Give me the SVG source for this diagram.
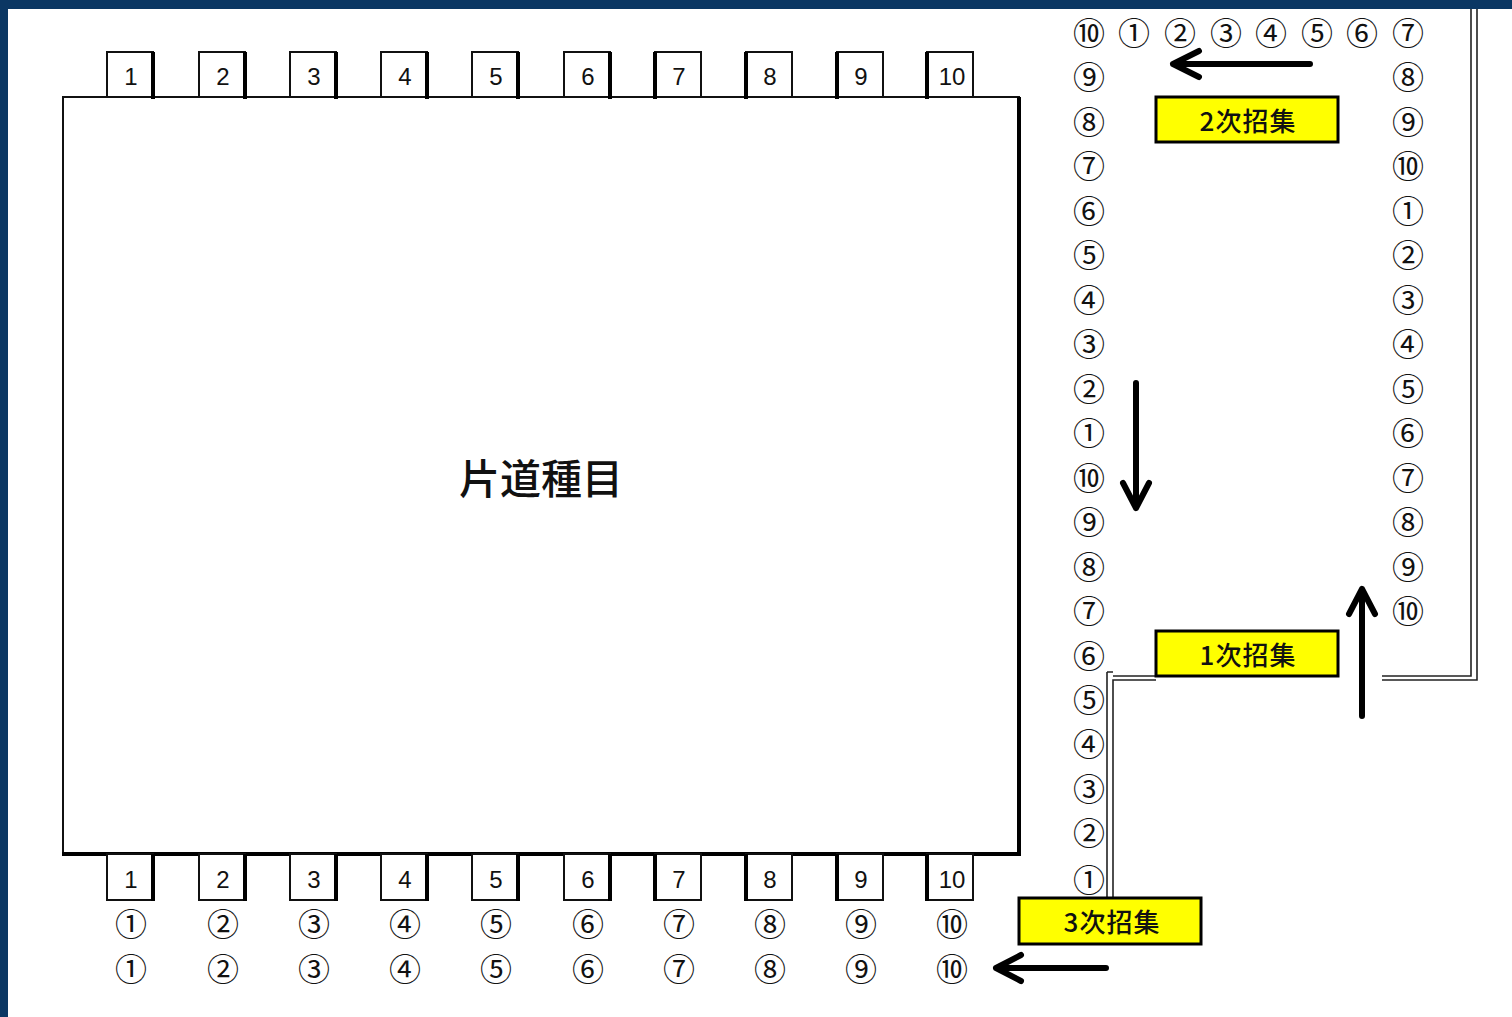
<svg xmlns="http://www.w3.org/2000/svg" width="1512" height="1017" viewBox="0 0 1512 1017">
<defs>
<style>
.ln{font-family:"Liberation Sans","Noto Sans",sans-serif;font-size:24px;fill:#111;text-anchor:middle;dominant-baseline:central}
.cn{font-family:"Noto Sans CJK JP","DejaVu Sans",sans-serif;font-size:32px;fill:#111;text-anchor:middle;dominant-baseline:central}
.box{fill:#fff;stroke:#111;stroke-width:2}
.thk{stroke:#000;stroke-width:4}
.yl{fill:#ffff00;stroke:#000;stroke-width:3}
.yt{font-family:"Noto Sans CJK JP",sans-serif;font-size:26px;font-weight:500;letter-spacing:1px;fill:#111;text-anchor:middle;dominant-baseline:central}
.dbl{fill:none;stroke:#222;stroke-width:1.6}
.arr{fill:none;stroke:#000;stroke-width:6;stroke-linecap:round;stroke-linejoin:round}
</style>
</defs>
<rect x="0" y="0" width="1512" height="1017" fill="#0b3763"/>
<rect x="8" y="9" width="1504" height="1008" fill="#fff"/>

<g id="pool">
<rect x="63" y="97" width="956" height="757" fill="#fff" stroke="#111" stroke-width="2"/>
<line x1="1019" y1="97" x2="1019" y2="855" class="thk"/>
<line x1="62" y1="854" x2="1021" y2="854" class="thk"/>
<text x="541" y="476" font-family="Noto Sans CJK JP,sans-serif" font-size="41" font-weight="500" fill="#111" text-anchor="middle" dominant-baseline="central">片道種目</text>
</g>

<g id="top-lanes">
<g id="tl1"><rect x="107" y="52" width="46" height="45" class="box"/><line x1="153" y1="52" x2="153" y2="99" class="thk"/><text x="131" y="76" class="ln">1</text></g>
<g id="tl2"><rect x="199" y="52" width="46" height="45" class="box"/><line x1="245" y1="52" x2="245" y2="99" class="thk"/><text x="223" y="76" class="ln">2</text></g>
<g id="tl3"><rect x="290" y="52" width="46" height="45" class="box"/><line x1="336" y1="52" x2="336" y2="99" class="thk"/><text x="314" y="76" class="ln">3</text></g>
<g id="tl4"><rect x="381" y="52" width="46" height="45" class="box"/><line x1="427" y1="52" x2="427" y2="99" class="thk"/><text x="405" y="76" class="ln">4</text></g>
<g id="tl5"><rect x="472" y="52" width="46" height="45" class="box"/><line x1="518" y1="52" x2="518" y2="99" class="thk"/><text x="496" y="76" class="ln">5</text></g>
<g id="tl6"><rect x="564" y="52" width="46" height="45" class="box"/><line x1="610" y1="52" x2="610" y2="99" class="thk"/><text x="588" y="76" class="ln">6</text></g>
<g id="tl7"><rect x="655" y="52" width="46" height="45" class="box"/><line x1="655" y1="52" x2="655" y2="99" class="thk"/><text x="679" y="76" class="ln">7</text></g>
<g id="tl8"><rect x="746" y="52" width="46" height="45" class="box"/><line x1="746" y1="52" x2="746" y2="99" class="thk"/><text x="770" y="76" class="ln">8</text></g>
<g id="tl9"><rect x="837" y="52" width="46" height="45" class="box"/><line x1="837" y1="52" x2="837" y2="99" class="thk"/><text x="861" y="76" class="ln">9</text></g>
<g id="tl10"><rect x="927" y="52" width="46" height="45" class="box"/><line x1="927" y1="52" x2="927" y2="99" class="thk"/><text x="952" y="76" class="ln">10</text></g>
</g>

<g id="bottom-lanes">
<g id="bl1"><rect x="107" y="854" width="46" height="46" class="box"/><line x1="153" y1="854" x2="153" y2="901" class="thk"/><text x="131" y="879" class="ln">1</text></g>
<g id="bl2"><rect x="199" y="854" width="46" height="46" class="box"/><line x1="245" y1="854" x2="245" y2="901" class="thk"/><text x="223" y="879" class="ln">2</text></g>
<g id="bl3"><rect x="290" y="854" width="46" height="46" class="box"/><line x1="336" y1="854" x2="336" y2="901" class="thk"/><text x="314" y="879" class="ln">3</text></g>
<g id="bl4"><rect x="381" y="854" width="46" height="46" class="box"/><line x1="427" y1="854" x2="427" y2="901" class="thk"/><text x="405" y="879" class="ln">4</text></g>
<g id="bl5"><rect x="472" y="854" width="46" height="46" class="box"/><line x1="518" y1="854" x2="518" y2="901" class="thk"/><text x="496" y="879" class="ln">5</text></g>
<g id="bl6"><rect x="564" y="854" width="46" height="46" class="box"/><line x1="610" y1="854" x2="610" y2="901" class="thk"/><text x="588" y="879" class="ln">6</text></g>
<g id="bl7"><rect x="655" y="854" width="46" height="46" class="box"/><line x1="655" y1="854" x2="655" y2="901" class="thk"/><text x="679" y="879" class="ln">7</text></g>
<g id="bl8"><rect x="746" y="854" width="46" height="46" class="box"/><line x1="746" y1="854" x2="746" y2="901" class="thk"/><text x="770" y="879" class="ln">8</text></g>
<g id="bl9"><rect x="837" y="854" width="46" height="46" class="box"/><line x1="837" y1="854" x2="837" y2="901" class="thk"/><text x="861" y="879" class="ln">9</text></g>
<g id="bl10"><rect x="927" y="854" width="46" height="46" class="box"/><line x1="927" y1="854" x2="927" y2="901" class="thk"/><text x="952" y="879" class="ln">10</text></g>
</g>

<g id="bottom-numbers">
<text x="131" y="922" class="cn">①</text><text x="223" y="922" class="cn">②</text><text x="314" y="922" class="cn">③</text><text x="405" y="922" class="cn">④</text><text x="496" y="922" class="cn">⑤</text><text x="588" y="922" class="cn">⑥</text><text x="679" y="922" class="cn">⑦</text><text x="770" y="922" class="cn">⑧</text><text x="861" y="922" class="cn">⑨</text><text x="952" y="922" class="cn">⑩</text>
<text x="131" y="967" class="cn">①</text><text x="223" y="967" class="cn">②</text><text x="314" y="967" class="cn">③</text><text x="405" y="967" class="cn">④</text><text x="496" y="967" class="cn">⑤</text><text x="588" y="967" class="cn">⑥</text><text x="679" y="967" class="cn">⑦</text><text x="770" y="967" class="cn">⑧</text><text x="861" y="967" class="cn">⑨</text><text x="952" y="967" class="cn">⑩</text>
</g>

<g id="top-row">
<text x="1089" y="31" class="cn">⑩</text><text x="1134" y="31" class="cn">①</text><text x="1180" y="31" class="cn">②</text><text x="1226" y="31" class="cn">③</text><text x="1271" y="31" class="cn">④</text><text x="1317" y="31" class="cn">⑤</text><text x="1362" y="31" class="cn">⑥</text><text x="1408" y="31" class="cn">⑦</text>
</g>

<g id="left-column">
<text x="1089" y="75" class="cn">⑨</text><text x="1089" y="120" class="cn">⑧</text><text x="1089" y="164" class="cn">⑦</text><text x="1089" y="209" class="cn">⑥</text><text x="1089" y="253" class="cn">⑤</text><text x="1089" y="298" class="cn">④</text><text x="1089" y="342" class="cn">③</text><text x="1089" y="387" class="cn">②</text><text x="1089" y="431" class="cn">①</text><text x="1089" y="476" class="cn">⑩</text><text x="1089" y="520" class="cn">⑨</text><text x="1089" y="565" class="cn">⑧</text><text x="1089" y="609" class="cn">⑦</text><text x="1089" y="654" class="cn">⑥</text><text x="1089" y="698" class="cn">⑤</text><text x="1089" y="742" class="cn">④</text><text x="1089" y="787" class="cn">③</text><text x="1089" y="831" class="cn">②</text><text x="1089" y="878" class="cn">①</text>
</g>

<g id="right-column">
<text x="1408" y="75" class="cn">⑧</text><text x="1408" y="120" class="cn">⑨</text><text x="1408" y="164" class="cn">⑩</text><text x="1408" y="209" class="cn">①</text><text x="1408" y="253" class="cn">②</text><text x="1408" y="298" class="cn">③</text><text x="1408" y="342" class="cn">④</text><text x="1408" y="387" class="cn">⑤</text><text x="1408" y="431" class="cn">⑥</text><text x="1408" y="476" class="cn">⑦</text><text x="1408" y="520" class="cn">⑧</text><text x="1408" y="565" class="cn">⑨</text><text x="1408" y="609" class="cn">⑩</text>
</g>

<g id="connectors">
<path class="dbl" d="M1471 9 V676 H1382 M1477 9 V680 H1382"/>
<path class="dbl" d="M1107 672 V898 M1113 898 V680 H1156 M1107 672 H1113 M1113 676 H1156"/>
<path class="arr" d="M1310 64 H1173 M1199 51 L1173 64 L1199 77"/>
<path class="arr" d="M1136 383 V508 M1123 483 L1136 508 L1149 483"/>
<path class="arr" d="M1362 716 V589 M1349 614 L1362 589 L1375 614"/>
<path class="arr" d="M1106 968 H996 M1021 955 L996 968 L1021 981"/>
</g>

<g id="label-2"><rect x="1156" y="97" width="182" height="45" class="yl"/><text x="1248" y="119" class="yt">2次招集</text></g>
<g id="label-1"><rect x="1156" y="631" width="182" height="45" class="yl"/><text x="1248" y="653" class="yt">1次招集</text></g>
<g id="label-3"><rect x="1019" y="898" width="182" height="46" class="yl"/><text x="1112" y="920" class="yt">3次招集</text></g>
</svg>
